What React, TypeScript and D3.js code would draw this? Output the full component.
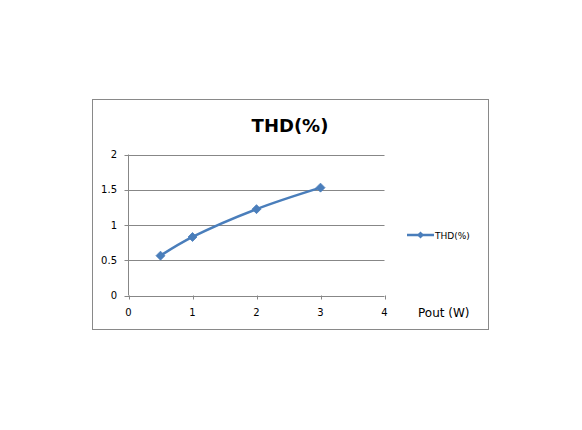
import React from "react";
import * as d3 from "d3";

const xValues = [0.5, 1, 2, 3];
const thdValues = [0.565, 0.83, 1.225, 1.53];
const xTicks = [0, 1, 2, 3, 4];
const yTicks = [0, 0.5, 1, 1.5, 2];
const title = "THD(%)";
const seriesName = "THD(%)";
const xAxisTitle = "Pout (W)";

export default function App() {
  const W = 582, H = 430;
  const x = d3.scaleLinear().domain([0, 4]).range([128.5, 384.5]);
  const y = d3.scaleLinear().domain([0, 2]).range([295.5, 154.5]);
  const pts: [number, number][] = xValues.map((v, i) => [x(v), y(thdValues[i])]);
  const line = d3.line().curve(d3.curveCatmullRom.alpha(0.5))(pts) || "";
  const color = "#4a7ebb";
  const grid = "#878787";
  const font = "Tahoma, 'DejaVu Sans', sans-serif";
  const diamond = (cx: number, cy: number, r = 4) =>
    `M${cx},${cy - r}L${cx + r},${cy}L${cx},${cy + r}L${cx - r},${cy}Z`;
  return (
    <svg width={W} height={H} style={{ position: "absolute", left: 0, top: 0 }}>
      <rect x={0} y={0} width={W} height={H} fill="#ffffff" />
      <rect x={92.5} y={99.5} width={396} height={230} fill="#fff" stroke="#898989" strokeWidth={1} />
      <text x={290} y={132} textAnchor="middle" fontFamily={font} fontWeight="bold" fontSize={18} fill="#000">{title}</text>
      {yTicks.map((t) => (
        <g key={"y" + t}>
          <line x1={x(0) - 4} x2={x(4)} y1={Math.round(y(t)) + 0.5} y2={Math.round(y(t)) + 0.5} stroke={grid} strokeWidth={1} />
          <text x={117} y={y(t) + 3.5} textAnchor="end" fontFamily={font} fontSize={10} fill="#000">{t}</text>
        </g>
      ))}
      <line x1={x(0)} x2={x(0)} y1={y(2)} y2={y(0)} stroke={grid} strokeWidth={1} />
      {xTicks.map((t) => (
        <g key={"x" + t}>
          <line x1={Math.round(x(t)) + 0.5} x2={Math.round(x(t)) + 0.5} y1={y(0)} y2={y(0) + 4} stroke={grid} strokeWidth={1} />
          <text x={x(t)} y={316} textAnchor="middle" fontFamily={font} fontSize={10} fill="#000">{t}</text>
        </g>
      ))}
      <text x={418} y={317} fontFamily={font} fontSize={12} fill="#000">{xAxisTitle}</text>
      <path d={line} fill="none" stroke={color} strokeWidth={2.5} />
      {pts.map(([cx, cy], i) => (
        <path key={i} d={diamond(cx, cy, 4.5)} fill={color} stroke={color} strokeWidth={0.8} />
      ))}
      <line x1={407} x2={434} y1={235} y2={235} stroke={color} strokeWidth={2.5} />
      <path d={diamond(420.5, 235, 3.5)} fill={color} />
      <text x={435} y={238.5} fontFamily={font} fontSize={9} fill="#000">{seriesName}</text>
    </svg>
  );
}
